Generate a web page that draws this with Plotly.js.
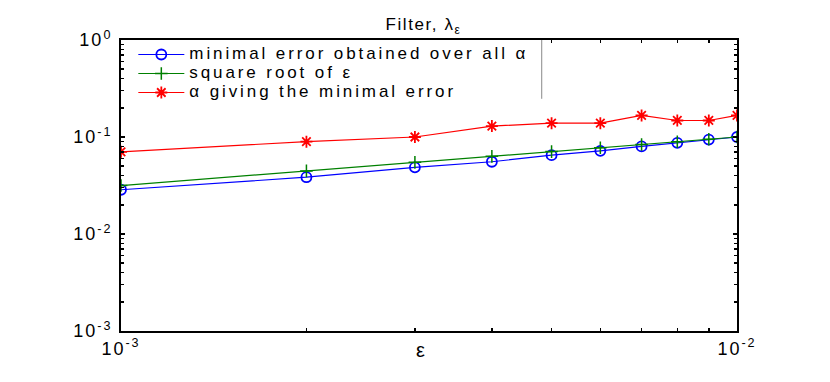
<!DOCTYPE html>
<html>
<head>
<meta charset="utf-8">
<script src="https://cdn.plot.ly/plotly-3.0.1.min.js"></script>
<style>
html,body{margin:0;padding:0;background:#fff;}
#chart{width:830px;height:382px;}
.legendtext{font-size:17px !important; letter-spacing:2.9px;}
.gtitle{letter-spacing:1.6px;}
.xtick text, .ytick text{letter-spacing:2px;}
</style>
</head>
<body>
<div id="chart"></div>
<script>
// Data
const epsilon = [0.001, 0.002, 0.003, 0.004, 0.005, 0.006, 0.007, 0.008, 0.009, 0.010];
const minimalError = [0.0286, 0.0385, 0.0487, 0.0556, 0.065, 0.072, 0.080, 0.087, 0.094, 0.100];
const sqrtEpsilon = [0.0316, 0.0447, 0.0548, 0.0632, 0.0707, 0.0775, 0.0837, 0.0894, 0.0949, 0.100];
const alphaMinimal = [0.0703, 0.0896, 0.100, 0.1295, 0.139, 0.139, 0.167, 0.148, 0.148, 0.167];

const xTickVals = [0.001, 0.01];
const xTickText = ['10<sup>-3</sup>', '10<sup>-2</sup>'];
const yTickVals = [0.001, 0.01, 0.1, 1];
const yTickText = ['10<sup>-3</sup>', '10<sup>-2</sup>', '10<sup>-1</sup>', '10<sup>0</sup>'];

const seriesNames = ['minimal error obtained over all α', 'square root of ε', 'α giving the minimal error'];

function minorVals(lo, hi) {
  const v = [];
  for (let d = lo; d < hi; d++) {
    for (let k = 2; k <= 9; k++) v.push(k * Math.pow(10, d));
  }
  return v;
}

const traces = [
  {x: epsilon, y: minimalError, name: seriesNames[0], mode: 'lines+markers', type: 'scatter',
   line: {color: '#0000ff', width: 1.2},
   marker: {symbol: 'circle-open', size: 10, color: '#0000ff', line: {width: 1.8, color: '#0000ff'}}},
  {x: epsilon, y: sqrtEpsilon, name: seriesNames[1], mode: 'lines+markers', type: 'scatter',
   line: {color: '#008000', width: 1.2},
   marker: {symbol: 'cross-thin-open', size: 9, color: '#008000', line: {width: 1.5, color: '#008000'}}},
  {x: epsilon, y: alphaMinimal, name: seriesNames[2], mode: 'lines+markers', type: 'scatter',
   line: {color: '#ff0000', width: 1.2},
   marker: {symbol: 'asterisk-open', size: 10, color: '#ff0000', line: {width: 1.8, color: '#ff0000'}}}
];

const layout = {
  width: 830, height: 382,
  margin: {l: 121, r: 93, t: 40, b: 51},
  paper_bgcolor: '#fff', plot_bgcolor: '#fff',
  font: {family: 'Liberation Sans, Arial, sans-serif', color: '#000'},
  title: {text: 'Filter, λ<sub>ε</sub>', font: {size: 17, color: '#000'}, x: 0.491, xanchor: 'center', xref: 'paper',
          yref: 'container', y: 0.936, yanchor: 'middle'},
  showlegend: true,
  legend: {x: 0.02, y: 1.0, xanchor: 'left', yanchor: 'top', bgcolor: 'rgba(255,255,255,1)', borderwidth: 0,
           font: {size: 11, color: '#000'}, tracegroupgap: 0, itemwidth: 46},
  xaxis: {type: 'log', range: [-3, -2], tickvals: xTickVals, ticktext: xTickText,
          showline: true, linecolor: '#000', linewidth: 2, mirror: 'ticks',
          ticks: 'inside', ticklen: 4, tickwidth: 1.5, tickcolor: '#000', showgrid: false, zeroline: false,
          tickfont: {size: 18},
          minor: {tickvals: minorVals(-3, -2), ticks: 'inside', ticklen: 3, tickcolor: '#000', showgrid: false}},
  yaxis: {type: 'log', range: [-3, 0], tickvals: yTickVals, ticktext: yTickText,
          showline: true, linecolor: '#000', linewidth: 2, mirror: 'ticks',
          ticks: 'inside', ticklen: 4, tickwidth: 1.5, tickcolor: '#000', showgrid: false, zeroline: false,
          tickfont: {size: 18}, ticklabelstandoff: 3,
          minor: {tickvals: minorVals(-3, 0), ticks: 'inside', ticklen: 3, tickcolor: '#000', showgrid: false}},
  annotations: [
    {text: 'ε', xref: 'paper', yref: 'paper', x: 0.487, y: -0.066, xanchor: 'center', yanchor: 'middle',
     showarrow: false, font: {size: 20, color: '#000'}}
  ],
  shapes: [
    {type: 'line', xref: 'paper', yref: 'paper', x0: 0.683, x1: 0.683, y0: 0.798, y1: 1,
     line: {color: '#888', width: 1}}
  ]
};

Plotly.newPlot('chart', traces, layout, {displayModeBar: false, staticPlot: true});
</script>
</body>
</html>
